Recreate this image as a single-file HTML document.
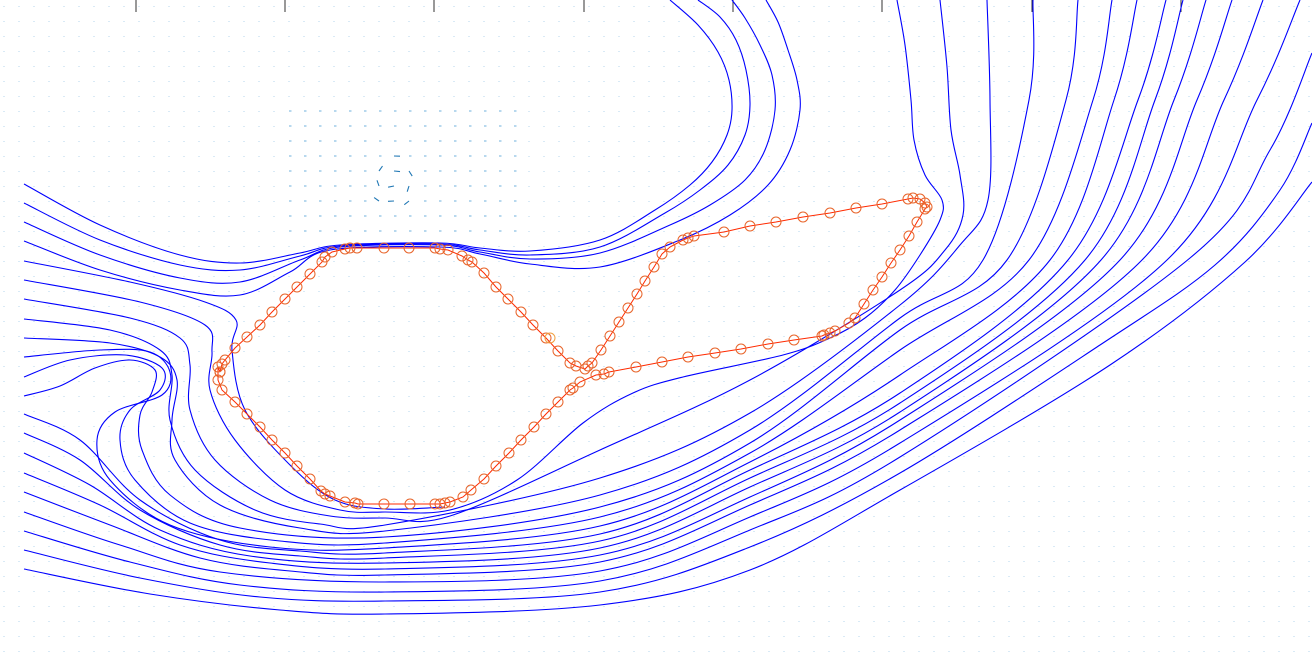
<!DOCTYPE html>
<html><head><meta charset="utf-8"><title>Streamlines</title>
<style>html,body{margin:0;padding:0;background:#fff;width:1312px;height:659px;overflow:hidden}svg{display:block}</style>
</head><body>
<svg id="chart" width="1312" height="659" viewBox="0 0 1312 659" xmlns="http://www.w3.org/2000/svg">
<g id="field"></g>
<g id="ticks"></g>
<g id="streams"></g>
<g id="poly"></g>
</svg>
<script>
const tickXs=[136,285,434,584,733,882,1032,1181];
const vortexCenter=[393,181];
const upperStreams=[
[[24,184],[100,225],[180,255],[240,263],[300,253],[340,245],[440,243],[480,248],[530,251],[600,240],[655,210],[690,185],[712,162],[727,135],[732,110],[729,80],[718,52],[698,25],[670,0]],
[[24,203],[100,240],[180,265],[240,270],[300,256],[340,246],[440,244],[480,250],[530,255],[600,247],[665,213],[700,190],[728,165],[745,135],[750,105],[746,70],[736,40],[720,17],[698,0]],
[[24,222],[100,255],[180,278],[240,282],[300,260],[340,247],[440,245],[480,252],[530,259],[600,253],[670,225],[710,205],[745,180],[765,150],[775,110],[772,75],[760,45],[745,18],[732,0]],
[[24,241],[100,270],[180,290],[240,295],[290,272],[330,250],[440,247],[480,254],[530,264],[600,267],[680,240],[730,215],[768,185],[790,150],[800,110],[797,80],[788,50],[778,22],[766,0]]
];
const lowerStreams=[
[[24,261],[130,282],[205,302],[236,320],[232,350],[245,410],[290,465],[335,500],[385,509],[445,507]],
[[24,280],[140,302],[205,325],[212,352],[210,390],[235,440],[285,490],[340,510],[385,512],[450,510],[517,480],[583,423],[633,393],[683,377],[783,355],[830,338],[865,318],[895,290],[920,255],[940,220],[942,200],[925,175],[914,140],[911,100],[905,45],[897,0]],
[[24,299],[130,318],[180,338],[190,365],[190,410],[215,460],[270,500],[330,516],[385,518],[450,516],[600,450],[750,380],[900,290],[945,250],[963,215],[960,175],[951,130],[947,67],[940,0]],
[[24,319],[110,330],[160,350],[172,375],[170,420],[195,470],[255,510],[320,524],[385,525],[600,478],[750,413],[900,305],[960,245],[988,200],[990,100],[987,0]],
[[24,338],[110,343],[160,357],[177,380],[172,420],[175,460],[220,505],[300,528],[385,531],[600,495],[750,430],[900,318],[983,260],[1029,100],[1033,0]],
[[24,396],[60,386],[95,368],[130,360],[155,370],[152,392],[140,415],[142,450],[170,495],[240,528],[385,537],[600,507],[750,443],[900,330],[1007,260],[1066,100],[1078,0]],
[[24,377],[70,360],[125,355],[162,368],[160,390],[130,410],[120,440],[135,480],[190,523],[280,541],[385,543],[600,517],[750,453],[900,350],[1029,260],[1093,100],[1112,0]],
[[24,357],[100,350],[150,352],[170,372],[162,395],[115,412],[97,440],[110,480],[170,525],[270,547],[385,548],[600,526],[750,462],[900,375],[1050,260],[1114,100],[1137,0]],
[[24,414],[80,440],[140,500],[220,540],[300,551],[385,553],[600,534],[750,470],[900,393],[1068,260],[1138,100],[1166,0]],
[[24,433],[80,460],[140,510],[220,545],[300,556],[385,558],[600,541],[750,478],[900,403],[1085,260],[1155,100],[1183,0]],
[[24,453],[90,485],[160,530],[250,556],[385,563],[600,548],[750,487],[900,412],[1101,260],[1174,100],[1206,0]],
[[24,473],[100,505],[180,545],[270,563],[385,569],[600,555],[750,497],[900,420],[1120,260],[1197,100],[1232,0]],
[[24,492],[110,525],[200,558],[290,571],[385,575],[600,562],[750,505],[900,430],[1142,260],[1224,100],[1263,0]],
[[24,512],[120,545],[220,572],[385,582],[600,571],[750,517],[900,443],[1167,260],[1257,100],[1300,0]],
[[24,531],[130,562],[240,585],[385,592],[600,581],[750,530],[900,457],[1190,258],[1270,150],[1312,53]],
[[24,550],[140,578],[260,597],[385,601],[600,592],[750,547],[900,473],[1100,345],[1215,265],[1280,190],[1312,123]],
[[24,569],[150,594],[280,610],[385,614],[600,605],[750,570],[900,490],[1110,365],[1245,262],[1312,182]]
];
const bodyPoints=[[220,372],[222,364],[225,360],[235,348],[247,337],[260,325],[272,312],[285,299],[297,287],[310,274],[322,262],[325,257],[332,252],[345,249],[350,248],[357,248],[384,248],[409,248],[435,248],[440,249],[448,250],[462,256],[468,260],[472,262],[484,273],[496,287],[508,299],[521,312],[533,325],[546,338],[558,351],[570,363],[576,366],[585,369],[588,366],[592,363],[601,350],[610,336],[619,322],[628,308],[637,294],[645,281],[654,267],[662,254],[670,247],[683,240],[688,238],[694,236],[724,232],[750,226],[776,222],[803,217],[830,213],[856,208],[882,204],[908,199],[913,198],[920,199],[925,203],[927,207],[925,209],[917,222],[909,236],[900,250],[891,263],[882,277],[873,290],[864,304],[855,318],[849,323],[835,331],[830,333],[824,335],[822,336],[794,340],[768,344],[741,349],[715,353],[688,357],[662,362],[636,367],[609,372],[604,374],[596,375],[580,382],[573,388],[570,390],[558,402],[546,414],[534,427],[521,440],[509,453],[496,466],[484,479],[471,490],[463,497],[450,502],[445,503],[440,504],[435,504],[410,504],[384,504],[358,504],[355,503],[345,502],[330,496],[325,494],[321,491],[310,479],[297,466],[285,453],[272,440],[260,427],[247,414],[235,402],[222,390],[218,380],[218,367],[220,372]];
const extraPoint=[550,338];

const NS="http://www.w3.org/2000/svg";
function mk(t,a,p){const e=document.createElementNS(NS,t);for(const k in a)e.setAttribute(k,a[k]);p.appendChild(e);return e;}
function smooth(pts){let d="M"+pts[0][0]+","+pts[0][1];
 for(let i=0;i<pts.length-1;i++){const p0=pts[Math.max(0,i-1)],p1=pts[i],p2=pts[i+1],p3=pts[Math.min(pts.length-1,i+2)];
  const c1=[p1[0]+(p2[0]-p0[0])/6,p1[1]+(p2[1]-p0[1])/6],c2=[p2[0]-(p3[0]-p1[0])/6,p2[1]-(p3[1]-p1[1])/6];
  d+=" C"+c1[0].toFixed(1)+","+c1[1].toFixed(1)+" "+c2[0].toFixed(1)+","+c2[1].toFixed(1)+" "+p2[0]+","+p2[1];}
 return d;}

// vector field
const fg=document.getElementById('field');
for(let y=6;y<659;y+=15){for(let x=4;x<1312;x+=15){
 const dx=x-vortexCenter[0],dy=y-vortexCenter[1];const r=Math.hypot(dx,dy);
 let len=1,col="#b3d6ee",ux=0,uy=1,w=1;
 if(x>285&&x<515&&y>110&&y<245){len=2.5;col="#6fb2de";ux=1;uy=0;}
 if(r<28){len=6;col="#1f77b4";ux=-dy/(r||1);uy=dx/(r||1);w=1.1;}
 const l=mk('line',{x1:x,y1:y,x2:(x+ux*len).toFixed(1),y2:(y+uy*len).toFixed(1),stroke:col,'stroke-width':w},fg);
 
 
}}
// ticks
const tg=document.getElementById('ticks');
tickXs.forEach(x=>{const l=mk('line',{x1:x,y1:0,x2:x,y2:12,stroke:'#333','stroke-width':1},tg);
 
 });
// streamlines
const sg=document.getElementById('streams');
upperStreams.concat(lowerStreams).forEach(s=>{const p=mk('path',{d:smooth(s),fill:'none',stroke:'#0000ff','stroke-width':1.1},sg);
 
 });
// body outline
const pg=document.getElementById('poly');
const pl=mk('polyline',{points:bodyPoints.map(p=>p.join(',')).join(' '),fill:'none',stroke:'#ff2a00','stroke-width':1},pg);


bodyPoints.forEach(p=>{const c=mk('circle',{cx:p[0],cy:p[1],r:5,fill:'none',stroke:'#e8642a','stroke-width':1},pg);
 
 });
const ec=mk('circle',{cx:extraPoint[0],cy:extraPoint[1],r:5,fill:'none',stroke:'#f0a040','stroke-width':1},pg);


</script>
</body></html>
